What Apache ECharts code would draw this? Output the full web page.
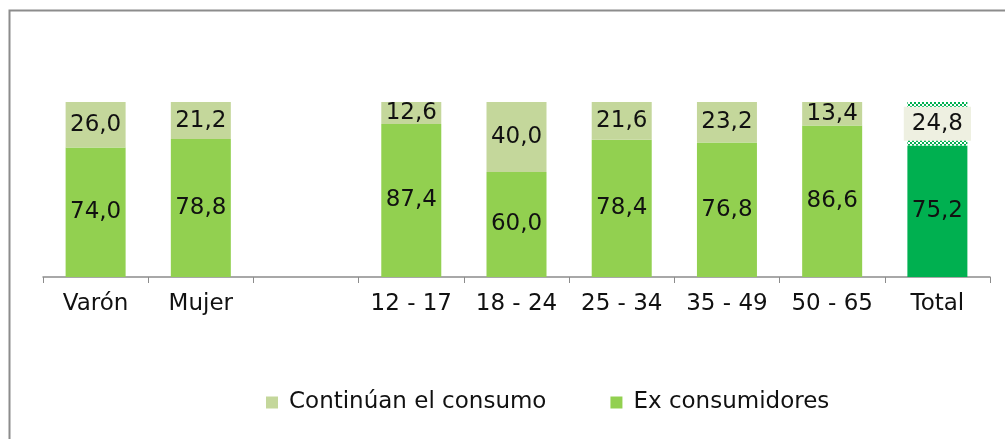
<!DOCTYPE html>
<html>
<head>
<meta charset="utf-8">
<script src="https://cdn.jsdelivr.net/npm/echarts@6/dist/echarts.min.js"></script>
<style>
  html, body { margin: 0; padding: 0; background: #fff; }
  #chart { width: 1005px; height: 439px; }
</style>
</head>
<body>
<div id="chart"></div>
<script>
// Data
const categories = ['Varón', 'Mujer', '', '12 - 17', '18 - 24', '25 - 34', '35 - 49', '50 - 65', 'Total'];
const exConsumidores = [74.0, 78.8, null, 87.4, 60.0, 78.4, 76.8, 86.6, 75.2];
const continuan = [26.0, 21.2, null, 12.6, 40.0, 21.6, 23.2, 13.4, 24.8];

const FONT = '"DejaVu Sans", sans-serif';
const FS = 23;

// checkered pattern for the Total top segment
function checker() {
    const c = document.createElement('canvas');
    c.width = 4; c.height = 4;
    const ctx = c.getContext('2d');
    ctx.fillStyle = '#ffffff';
    ctx.fillRect(0, 0, 4, 4);
    ctx.fillStyle = '#00B050';
    ctx.fillRect(0, 0, 2, 2);
    ctx.fillRect(2, 2, 2, 2);
    return c;
}

const fmt = v => v.toFixed(1).replace('.', ',');

const exData = exConsumidores.map((v, i) => {
    if (v === null) return '-';
    if (categories[i] === 'Total') return { value: v, itemStyle: { color: '#00B050' } };
    return v;
});

const contData = continuan.map((v, i) => {
    if (v === null) return '-';
    if (categories[i] === 'Total') {
        return {
            value: v,
            itemStyle: { color: { image: checker(), repeat: 'repeat' } },
            label: { backgroundColor: '#EEF0E1', padding: [6, 8, 5, 8] }
        };
    }
    return v;
});

const chart = echarts.init(document.getElementById('chart'));

const labelStyle = {
    show: true,
    position: 'inside',
    color: '#111',
    fontSize: FS,
    fontFamily: FONT,
    formatter: p => fmt(p.value)
};

chart.setOption({
    animation: false,
    graphic: [{
        type: 'rect',
        shape: { x: 9.5, y: 10.5, width: 1100, height: 500 },
        style: { fill: 'none', stroke: '#8c8c8c', lineWidth: 2 }
    }],
    grid: { left: 43, right: 15, top: 102, bottom: 162 },
    legend: {
        bottom: 20,
        left: 261,
        itemWidth: 12,
        itemHeight: 12,
        itemGap: 64,
        icon: 'rect',
        textStyle: { fontSize: FS, fontFamily: FONT, color: '#111', padding: [0, 0, 0, 6] },
        data: ['Continúan el consumo', 'Ex consumidores']
    },
    xAxis: {
        type: 'category',
        data: categories,
        axisLine: { lineStyle: { color: '#8c8c8c', width: 1.5 } },
        axisTick: { show: true, length: 6, interval: 0, lineStyle: { color: '#8c8c8c' } },
        axisLabel: { fontSize: FS, fontFamily: FONT, color: '#111', margin: 16, interval: 0, hideOverlap: false }
    },
    yAxis: {
        type: 'value',
        min: 0,
        max: 100,
        show: false,
        splitLine: { show: false }
    },
    series: [
        {
            name: 'Ex consumidores',
            type: 'bar',
            stack: 'a',
            barWidth: 60,
            itemStyle: { color: '#92D050' },
            label: labelStyle,
            data: exData
        },
        {
            name: 'Continúan el consumo',
            type: 'bar',
            stack: 'a',
            barWidth: 60,
            itemStyle: { color: '#C4D79B' },
            label: labelStyle,
            data: contData
        }
    ]
});
</script>
</body>
</html>
